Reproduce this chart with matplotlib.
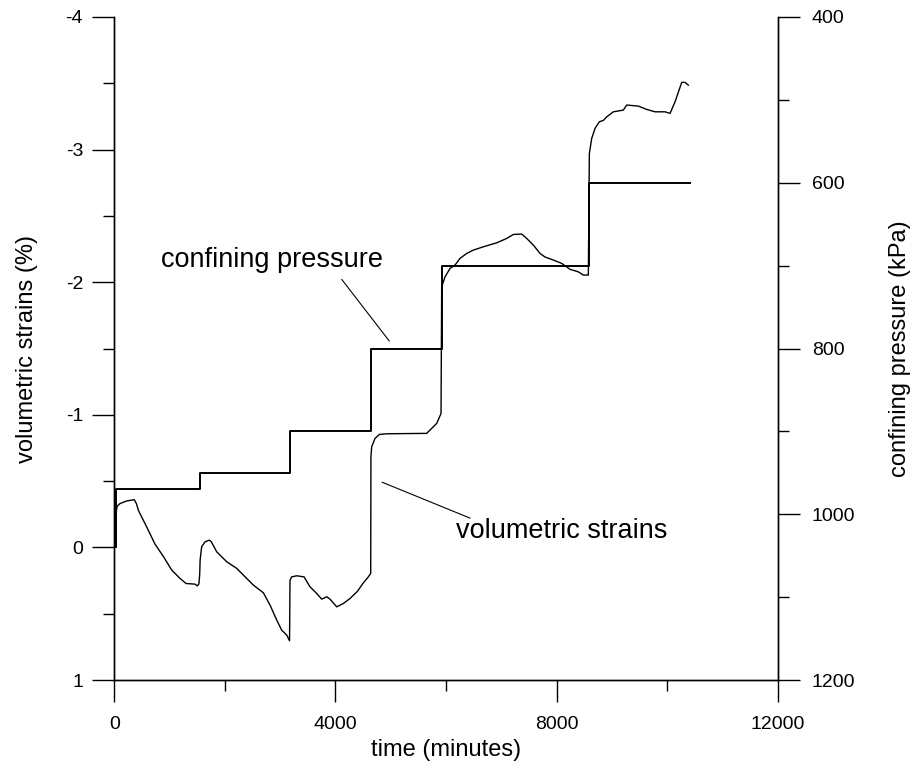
import matplotlib
matplotlib.use("Agg")
import matplotlib.pyplot as plt
from matplotlib.ticker import MultipleLocator

plt.rcParams['font.family'] = ['Liberation Sans', 'DejaVu Sans']
plt.rcParams['axes.unicode_minus'] = False

# Volumetric strain record (time in minutes, strain in %)
strain_time = [0, 30, 32, 50, 100, 220, 360, 400, 435, 585, 736, 890, 1038, 1189,
               1297, 1460, 1502, 1530, 1545, 1552, 1580, 1641, 1719, 1756, 1852,
               2033, 2214, 2395, 2515, 2696, 2817, 2938, 3028, 3119, 3170, 3178,
               3208, 3300, 3432, 3540, 3661, 3751, 3842, 3902, 4023, 4143, 4264,
               4400, 4500, 4595, 4638, 4642, 4656, 4716, 4795, 4928, 5651, 5711,
               5832, 5910, 5922, 5982, 6073, 6163, 6254, 6375, 6495, 6675, 6917,
               7098, 7218, 7370, 7460, 7580, 7701, 7791, 7942, 8093, 8244, 8394,
               8484, 8575, 8593, 8636, 8696, 8774, 8846, 8907, 9027, 9208, 9269,
               9479, 9631, 9781, 9962, 10053, 10143, 10264, 10324, 10384]
strain_vals = [0.0, 0.0, -0.26, -0.31, -0.33, -0.35, -0.36, -0.33, -0.28, -0.155,
               -0.025, 0.07, 0.171, 0.234, 0.272, 0.277, 0.29, 0.275, 0.2, 0.096,
               -0.005, -0.042, -0.055, -0.042, 0.033, 0.108, 0.158, 0.234, 0.284,
               0.342, 0.435, 0.548, 0.624, 0.661, 0.704, 0.247, 0.222, 0.214,
               0.222, 0.297, 0.347, 0.39, 0.372, 0.39, 0.448, 0.423, 0.385, 0.33,
               0.27, 0.222, 0.196, -0.683, -0.759, -0.822, -0.852, -0.857, -0.86,
               -0.885, -0.935, -1.01, -1.965, -2.04, -2.104, -2.129, -2.18, -2.217,
               -2.242, -2.267, -2.297, -2.33, -2.36, -2.363, -2.33, -2.28, -2.217,
               -2.19, -2.167, -2.142, -2.097, -2.078, -2.054, -2.054, -2.97, -3.085,
               -3.16, -3.21, -3.22, -3.247, -3.285, -3.298, -3.336, -3.328, -3.303,
               -3.285, -3.285, -3.273, -3.36, -3.507, -3.507, -3.486]

# Confining pressure stages (start time in minutes, level in kPa)
stage_start = [0, 30, 1550, 3180, 4640, 5920, 8590]
stage_level = [1040, 970, 950, 900, 800, 700, 600]
test_end = 10420

fig = plt.figure(figsize=(9.16, 7.69), dpi=100)
ax = fig.add_axes([0.1248, 0.1157, 0.7242, 0.8622])
ax2 = ax.twinx()

ax.plot(strain_time, strain_vals, color='black', lw=1.0)
p_t = stage_start + [test_end]
p_v = stage_level + [stage_level[-1]]
ax2.plot(p_t, p_v, color='black', lw=1.4, drawstyle='steps-post')

ax.set_xlim(0, 12000)
ax.set_ylim(1, -4)
ax2.set_ylim(1200, 400)

for a in (ax, ax2):
    a.spines['top'].set_visible(False)
    for s in a.spines.values():
        s.set_linewidth(1.0)
        s.set_color('black')

ax.xaxis.set_major_locator(MultipleLocator(4000))
ax.xaxis.set_minor_locator(MultipleLocator(2000))
ax.yaxis.set_major_locator(MultipleLocator(1))
ax.yaxis.set_minor_locator(MultipleLocator(0.5))
ax2.yaxis.set_major_locator(MultipleLocator(200))
ax2.yaxis.set_minor_locator(MultipleLocator(100))

for a in (ax, ax2):
    a.tick_params(which='major', direction='out', length=16, width=1.0,
                  labelsize=14)
    a.tick_params(which='minor', direction='out', length=8, width=1.0)
ax.tick_params(axis='x', which='major', pad=10)
ax.tick_params(axis='y', which='major', pad=6.5)
ax2.tick_params(axis='y', which='major', pad=8.5)

ax.set_xlabel('time (minutes)', fontsize=17, labelpad=4)
ax.set_ylabel('volumetric strains (%)', fontsize=17, labelpad=20)
ax2.set_ylabel('confining pressure (kPa)', fontsize=17, labelpad=24)

ax.text(2853, -2.168, 'confining pressure', fontsize=19.5, ha='center', va='center')
ax.annotate('', xy=(4975, -1.556), xytext=(4114, -2.021),
            arrowprops=dict(arrowstyle='-', color='black', lw=0.8,
                            shrinkA=0, shrinkB=0))
ax.text(8090, -0.123, 'volumetric strains', fontsize=19.5, ha='center', va='center')
ax.annotate('', xy=(4843, -0.492), xytext=(6435, -0.221),
            arrowprops=dict(arrowstyle='-', color='black', lw=0.8,
                            shrinkA=0, shrinkB=0))

fig.savefig('out.png', dpi=100)
